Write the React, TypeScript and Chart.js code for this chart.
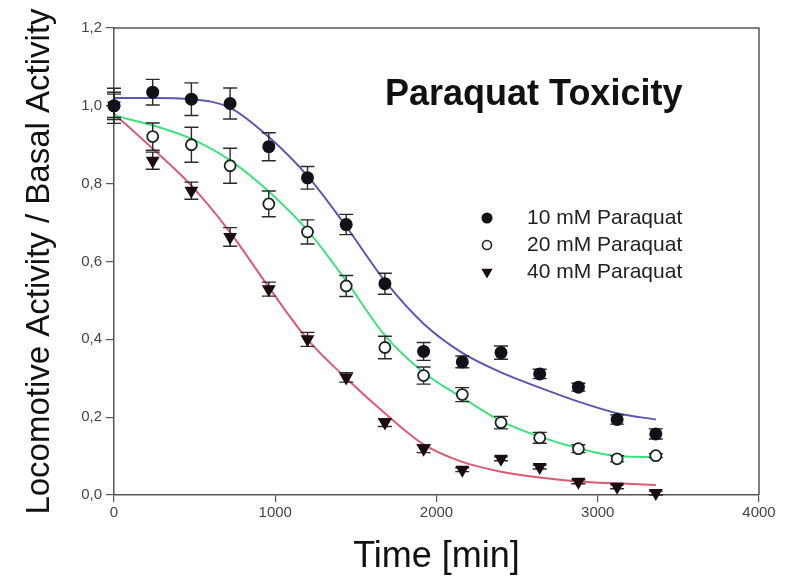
import React, { useEffect, useRef } from "react";
import { Chart, registerables } from "chart.js";

Chart.register(...registerables);

// ---- data ----
const times = [0, 240, 480, 720, 960, 1200, 1440, 1680, 1920, 2160, 2400, 2640, 2880, 3120, 3360];

const mean10 = [1.0, 1.035, 1.017, 1.006, 0.895, 0.815, 0.695, 0.543, 0.369, 0.342, 0.366, 0.311, 0.277, 0.194, 0.157];
const err10 = [0.03, 0.033, 0.042, 0.04, 0.036, 0.029, 0.026, 0.027, 0.023, 0.015, 0.017, 0.012, 0.01, 0.012, 0.013];

const mean20 = [1.0, 0.921, 0.9, 0.846, 0.748, 0.676, 0.537, 0.379, 0.307, 0.258, 0.186, 0.147, 0.119, 0.093, 0.101];
const err20 = [0.035, 0.035, 0.045, 0.045, 0.033, 0.031, 0.027, 0.029, 0.022, 0.018, 0.016, 0.014, 0.01, 0.008, 0.005];

const mean40 = [1.0, 0.859, 0.782, 0.663, 0.529, 0.4, 0.302, 0.186, 0.119, 0.065, 0.093, 0.072, 0.034, 0.021, 0.005];
const err40 = [0.045, 0.022, 0.022, 0.024, 0.018, 0.018, 0.012, 0.01, 0.01, 0.005, 0.005, 0.005, 0.005, 0.005, 0.005];

// fitted curves at the same times
const fit10 = [1.02, 1.02, 1.017, 0.995, 0.92, 0.82, 0.69, 0.55, 0.44, 0.365, 0.315, 0.276, 0.24, 0.21, 0.194];
const fit20 = [0.975, 0.95, 0.915, 0.86, 0.78, 0.68, 0.55, 0.41, 0.315, 0.25, 0.19, 0.15, 0.12, 0.1, 0.097];
const fit40 = [0.98, 0.89, 0.795, 0.675, 0.534, 0.4, 0.3, 0.21, 0.13, 0.085, 0.06, 0.045, 0.035, 0.03, 0.026];

const seriesLabels = ["10 mM Paraquat", "20 mM Paraquat", "40 mM Paraquat"];
const xTicks = [0, 1000, 2000, 3000, 4000];
const yTicks = [0, 0.2, 0.4, 0.6, 0.8, 1.0, 1.2];
const chartTitle = "Paraquat Toxicity";
const xTitle = "Time [min]";
const yTitle = "Locomotive Activity / Basal Activity";

const FONT = "'Liberation Sans', Arial, Helvetica, sans-serif";

const toPts = (ys: number[]) => times.map((t, i) => ({ x: t, y: ys[i] }));

function drawMarker(ctx: CanvasRenderingContext2D, kind: string, x: number, y: number, r: number) {
  ctx.save();
  ctx.beginPath();
  if (kind === "filled") {
    ctx.arc(x, y, r, 0, Math.PI * 2);
    ctx.fillStyle = "#111118";
    ctx.fill();
  } else if (kind === "open") {
    ctx.arc(x, y, r, 0, Math.PI * 2);
    ctx.fillStyle = "#ffffff";
    ctx.fill();
    ctx.lineWidth = 1.6;
    ctx.strokeStyle = "#1c241c";
    ctx.stroke();
  } else {
    const h = r * 1.5;
    const w = r * Math.sqrt(3);
    ctx.moveTo(x - w / 2, y - h / 3);
    ctx.lineTo(x + w / 2, y - h / 3);
    ctx.lineTo(x, y + (2 * h) / 3);
    ctx.closePath();
    ctx.fillStyle = "#1a0c0c";
    ctx.fill();
  }
  ctx.restore();
}

const decorPlugin = {
  id: "decor",
  beforeDatasetDraw(chart: any, args: any) {
    const ds = chart.data.datasets[args.index];
    if (!ds.errors) return;
    const ctx = chart.ctx as CanvasRenderingContext2D;
    const xs = chart.scales.x;
    const ys = chart.scales.y;
    ctx.save();
    ctx.strokeStyle = "#2a2a2a";
    ctx.lineWidth = 1.4;
    ds.data.forEach((p: any, i: number) => {
      const e = ds.errors[i];
      if (!e) return;
      const px = xs.getPixelForValue(p.x);
      const top = ys.getPixelForValue(p.y + e);
      const bot = ys.getPixelForValue(p.y - e);
      ctx.beginPath();
      ctx.moveTo(px, top);
      ctx.lineTo(px, bot);
      ctx.moveTo(px - 7, top);
      ctx.lineTo(px + 7, top);
      ctx.moveTo(px - 7, bot);
      ctx.lineTo(px + 7, bot);
      ctx.stroke();
    });
    ctx.restore();
  },
  afterDraw(chart: any) {
    const ctx = chart.ctx as CanvasRenderingContext2D;
    const a = chart.chartArea;
    ctx.save();
    // frame top & right
    ctx.strokeStyle = "#555555";
    ctx.lineWidth = 1.5;
    ctx.beginPath();
    ctx.moveTo(a.left, a.top);
    ctx.lineTo(a.right, a.top);
    ctx.lineTo(a.right, a.bottom);
    ctx.stroke();
    // title
    ctx.fillStyle = "#111111";
    ctx.font = `bold 36px ${FONT}`;
    ctx.textAlign = "left";
    ctx.textBaseline = "alphabetic";
    ctx.fillText(chartTitle, a.left + 271, a.top + 77);
    // legend
    const kinds = ["filled", "open", "tri"];
    const radii = [5.5, 4.5, 6.5];
    ctx.font = `21px ${FONT}`;
    ctx.textBaseline = "middle";
    seriesLabels.forEach((lab, i) => {
      const y = a.top + 190 + i * 27;
      drawMarker(ctx, kinds[i], a.left + 373, y, radii[i]);
      ctx.fillStyle = "#222222";
      ctx.fillText(lab, a.left + 413, y);
    });
    ctx.restore();
  },
};

export default function App() {
  const ref = useRef<HTMLCanvasElement | null>(null);

  useEffect(() => {
    if (!ref.current) return;
    const lineCommon = {
      type: "line" as const,
      showLine: true,
      pointRadius: 0,
      borderWidth: 2,
      cubicInterpolationMode: "monotone" as const,
      fill: false,
      order: 2,
    };
    const chart = new Chart(ref.current, {
      type: "scatter",
      data: {
        datasets: [
          { ...lineCommon, label: "fit 10", data: toPts(fit10), borderColor: "#5858b0" },
          { ...lineCommon, label: "fit 20", data: toPts(fit20), borderColor: "#3fe07e" },
          { ...lineCommon, label: "fit 40", data: toPts(fit40), borderColor: "#dc5a72" },
          {
            label: seriesLabels[0],
            data: toPts(mean10),
            errors: err10,
            pointStyle: "circle",
            pointRadius: 6.5,
            backgroundColor: "#111118",
            borderColor: "#111118",
            borderWidth: 0,
            clip: false,
            order: 1,
          } as any,
          {
            label: seriesLabels[1],
            data: toPts(mean20),
            errors: err20,
            pointStyle: "circle",
            pointRadius: 5.5,
            backgroundColor: "#ffffff",
            borderColor: "#1c241c",
            borderWidth: 1.8,
            clip: false,
            order: 1,
          } as any,
          {
            label: seriesLabels[2],
            data: toPts(mean40),
            errors: err40,
            pointStyle: "triangle",
            rotation: 180,
            pointRadius: 8,
            backgroundColor: "#1a0c0c",
            borderColor: "#1a0c0c",
            borderWidth: 0,
            clip: false,
            order: 1,
          } as any,
        ],
      },
      options: {
        animation: false,
        responsive: false,
        devicePixelRatio: 1,
        layout: { padding: { top: 28, right: 46, left: 0, bottom: 0 } },
        plugins: {
          legend: { display: false },
          tooltip: { enabled: false },
          title: { display: false },
        },
        scales: {
          x: {
            type: "linear",
            min: xTicks[0],
            max: xTicks[xTicks.length - 1],
            afterFit: (s: any) => {
              s.height = 86;
            },
            ticks: {
              stepSize: xTicks[1] - xTicks[0],
              color: "#444444",
              font: { family: FONT, size: 15 },
              padding: 2,
              callback: (v: any) => String(v),
            },
            grid: { drawOnChartArea: false, drawTicks: true, tickLength: 7, color: "#555555", lineWidth: 1.2 },
            border: { display: true, color: "#555555", width: 1.5 },
            title: {
              display: true,
              text: xTitle,
              color: "#111111",
              font: { family: FONT, size: 36 },
              padding: { top: 0, bottom: 2 },
            },
          },
          y: {
            type: "linear",
            min: yTicks[0],
            max: yTicks[yTicks.length - 1],
            afterFit: (s: any) => {
              s.width = 114;
            },
            ticks: {
              stepSize: yTicks[1] - yTicks[0],
              color: "#444444",
              font: { family: FONT, size: 15 },
              padding: 4,
              callback: (v: any) => Number(v).toFixed(1).replace(".", ","),
            },
            grid: { drawOnChartArea: false, drawTicks: true, tickLength: 8, color: "#555555", lineWidth: 1.2 },
            border: { display: true, color: "#555555", width: 1.5 },
            title: {
              display: true,
              text: yTitle,
              color: "#111111",
              font: { family: FONT, size: 33 },
              padding: { top: 20, bottom: 0 },
            },
          },
        },
      },
      plugins: [decorPlugin],
    });
    return () => chart.destroy();
  }, []);

  return (
    <canvas
      ref={ref}
      width={805}
      height={581}
      style={{ position: "fixed", left: 0, top: 0, width: 805, height: 581, display: "block" }}
    />
  );
}
